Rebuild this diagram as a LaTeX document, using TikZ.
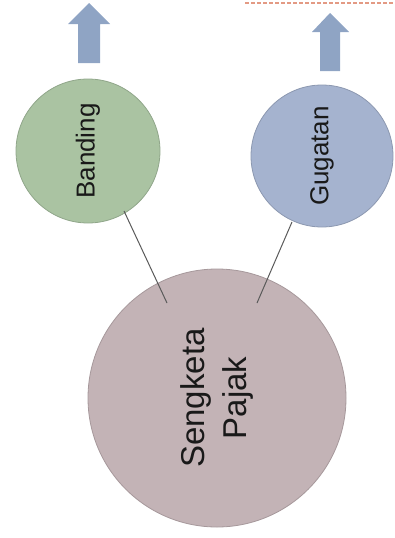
\documentclass[tikz,border=0pt]{standalone}
\usepackage{fontspec}
\setmainfont{Liberation Sans}
\definecolor{bandgreen}{HTML}{AAC3A2}
\definecolor{gugblue}{HTML}{A5B3CF}
\definecolor{sengmauve}{HTML}{C3B3B6}
\definecolor{arrowblue}{HTML}{8FA4C4}
\definecolor{linkgray}{HTML}{5A5A5A}
\definecolor{dashred}{HTML}{E39A84}
\tikzset{
  bubble/.style={circle, inner sep=0pt, draw=#1!85!black, line width=0.8pt, fill=#1},
  lbl/.style={rotate=90, font=\fontsize{26}{30}\selectfont, text=black!90},
  link/.style={draw=linkgray, line width=1pt},
  blockarrow/.style={fill=arrowblue, draw=none}
}
\begin{document}
\begin{tikzpicture}[x=1pt,y=-1pt]
\useasboundingbox (0,0) rectangle (394,538);
% faint dashed line at top right
\draw[dashred, line width=2pt, dash pattern=on 4pt off 2pt] (245,2.5) -- (394,2.5);
% block arrows
\path[blockarrow] (89,3) -- (110,24) -- (100,24) -- (100,63) -- (78,63) -- (78,24) -- (68,24) -- cycle;
\path[blockarrow] (330,13) -- (349,32) -- (340,32) -- (340,71) -- (320,71) -- (320,32) -- (312,32) -- cycle;
% circles
\node[bubble=bandgreen, minimum size=144pt] (banding) at (88,151) {};
\node[bubble=gugblue, minimum size=142pt] (gugatan) at (322,156) {};
\node[bubble=sengmauve, minimum size=258pt] (sengketa) at (217,398) {};
% labels
\node[lbl] at (banding) {Banding};
\node[lbl] at (gugatan) {Gugatan};
\node[lbl, font=\fontsize{33}{42}\selectfont, align=center] at (sengketa) {Sengketa\\Pajak};
% connectors
\coordinate (lA) at (124,211);
\coordinate (lB) at (167,303);
\coordinate (rA) at (292,222);
\coordinate (rB) at (257,303);
\draw[link] (lA) -- (lB);
\draw[link] (rA) -- (rB);
\end{tikzpicture}
\end{document}
